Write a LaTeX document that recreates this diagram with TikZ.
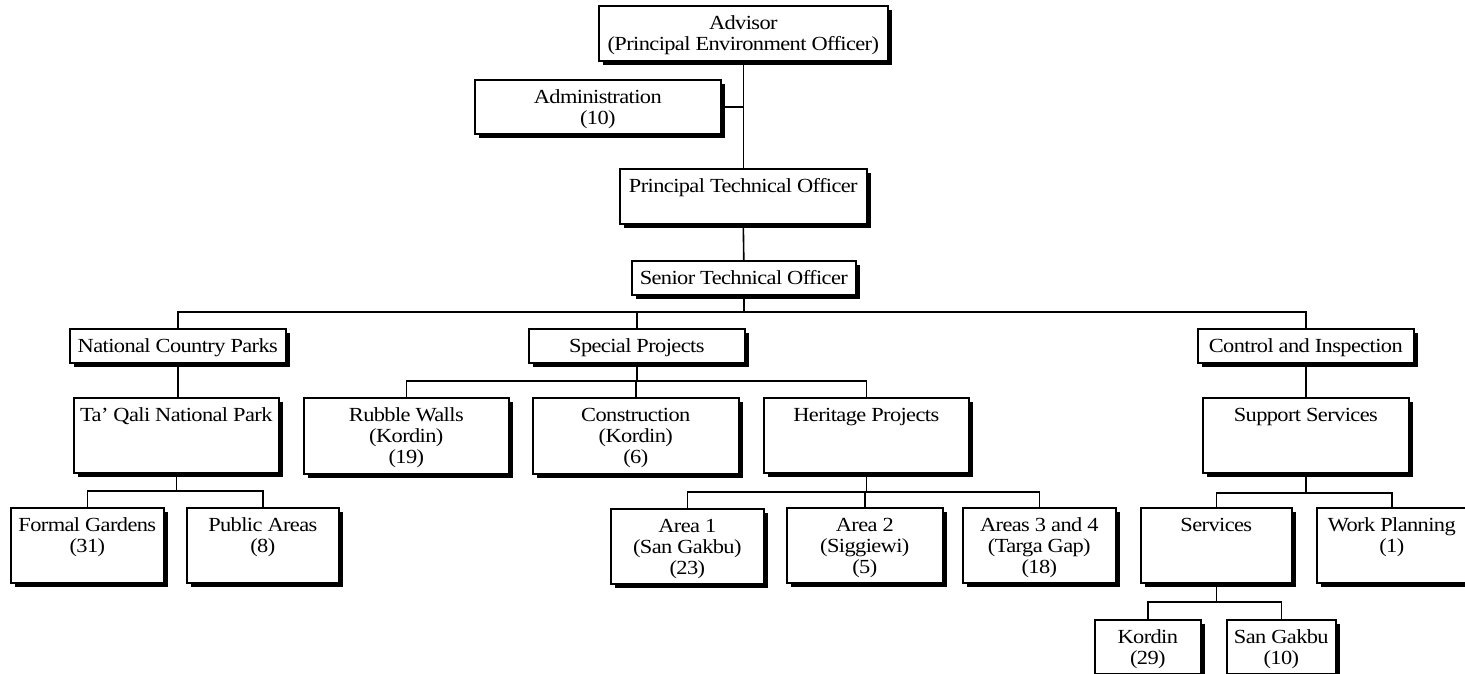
\documentclass[tikz,border=0pt]{standalone}
\usepackage{fontspec}
\setmainfont{Liberation Serif}[FakeStretch=1.12, LetterSpace=-3]
\usetikzlibrary{shadows}
\tikzset{
  box/.style={draw, line width=1.2pt, fill=white, inner sep=0pt,
    drop shadow={shadow xshift=3pt, shadow yshift=-3pt, fill=black, opacity=1}},
  link/.style={line width=1.2pt}
}
\newcommand\obox[6]{%
  \pgfmathsetmacro\bw{(#3-#1)*0.75}%
  \pgfmathsetmacro\bh{(#4-#2)*0.75}%
  \node[box, anchor=north west] (#5) at (#1,#2)
    {\parbox[t][\bh pt][t]{\bw pt}{\centering\rule{0pt}{18pt}#6}};}
\begin{document}
\begin{tikzpicture}[x=0.75pt, y=-0.75pt, font=\fontsize{15}{15.75}\selectfont]
\useasboundingbox (0,0) rectangle (1465,674);
% boxes
\obox{598}{5}{887}{60}{adv}{Advisor\\(Principal Environment Officer)}
\obox{474}{79}{720}{133}{adm}{Administration\\(10)}
\obox{619}{168}{866}{223}{pto}{Principal Technical Officer}
\obox{631}{260}{855}{294}{sto}{Senior Technical Officer}
\obox{69}{328}{285}{362}{ncp}{National Country Parks}
\obox{528}{328}{744}{362}{sp}{Special Projects}
\obox{1197}{328}{1413}{362}{ci}{Control and Inspection}
\obox{73}{397}{278}{472}{tq}{Ta' Qali National Park}
\obox{303}{397}{508}{473}{rw}{Rubble Walls\\(Kordin)\\(19)}
\obox{532}{397}{738}{473}{con}{Construction\\(Kordin)\\(6)}
\obox{763}{397}{968}{472}{her}{Heritage Projects}
\obox{1202}{397}{1408}{472}{ss}{Support Services}
\obox{10}{507}{163}{582}{fg}{Formal Gardens\\(31)}
\obox{186}{507}{338}{582}{pa}{Public Areas\\(8)}
\obox{610}{508}{763}{583}{aone}{Area 1\\(San Gakbu)\\(23)}
\obox{786}{507}{942}{582}{atwo}{Area 2\\(Siggiewi)\\(5)}
\obox{962}{507}{1115}{582}{athree}{Areas 3 and 4\\(Targa Gap)\\(18)}
\obox{1140}{507}{1291}{582}{sv}{Services}
\obox{1316}{507}{1466}{582}{wp}{Work Planning\\(1)}
\obox{1094}{619}{1200}{673}{ko}{Kordin\\(29)}
\obox{1226}{619}{1335}{673}{sg}{San Gakbu\\(10)}
% bus coordinates
\coordinate (busA) at (0,312);
\coordinate (busB) at (0,381);
\coordinate (busC) at (0,491);
\coordinate (busD) at (0,492);
\coordinate (busE) at (0,493);
\coordinate (busF) at (0,602);
% connectors
\draw[link] (adv.south) -- (pto.north);
\draw[link] (adm.east) -- (adm.east -| adv.south);
\draw[link] (pto.south) -- (sto.north);
\draw[link] (sto.south) -- (sto.south |- busA);
\draw[link] (ncp.north) |- (busA -| ci.north) -- (ci.north);
\draw[link] (sp.north) -- (sp.north |- busA);
\draw[link] (ncp.south) -- (ncp.south |- tq.north);
\draw[link] (tq.south) -- (tq.south |- busC);
\draw[link] (fg.north) |- (busC -| pa.north) -- (pa.north);
\draw[link] (sp.south) -- (sp.south |- busB);
\draw[link] (rw.north) |- (busB -| her.north) -- (her.north);
\draw[link] (con.north) -- (con.north |- busB);
\draw[link] (her.south) -- (her.south |- busD);
\draw[link] (aone.north) |- (busD -| athree.north) -- (athree.north);
\draw[link] (atwo.north) -- (atwo.north |- busD);
\draw[link] (ci.south) -- (ci.south |- ss.north);
\draw[link] (ss.south) -- (ss.south |- busE);
\draw[link] (sv.north) |- (busE -| wp.north) -- (wp.north);
\draw[link] (sv.south) -- (sv.south |- busF);
\draw[link] (ko.north) |- (busF -| sg.north) -- (sg.north);
\end{tikzpicture}
\end{document}
